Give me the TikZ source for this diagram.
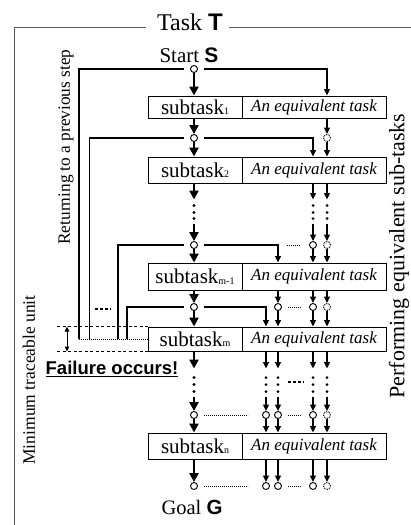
\documentclass[tikz,border=0pt]{standalone}
\usepackage{fontspec}
\setmainfont{Liberation Serif}
\newfontfamily\arialf{Liberation Sans}
\usetikzlibrary{arrows.meta,calc}
\newcommand\subs[1]{\raisebox{-0.5pt}{\fontsize{10}{10}\selectfont #1}}
\begin{document}
\begin{tikzpicture}[x=1pt,y=-1pt,
  frame/.style={line width=1pt, black!65},
  lbox/.style={draw, line width=1pt, minimum width=94pt, inner sep=0pt, font=\fontsize{21}{21}\selectfont},
  rbox/.style={draw, line width=1pt, minimum width=144pt, inner sep=0pt, font=\fontsize{17}{17}\selectfont\itshape},
  pt/.style={circle, draw, line width=0.9pt, fill=white, inner sep=0pt, minimum size=7pt},
  dpt/.style={pt, dash pattern=on 0.9pt off 0.9pt},
  mainarr/.style={line width=2.6pt, -{Triangle[length=9pt,width=9pt]}},
  arr/.style={line width=1.3pt, -{Triangle[length=6.5pt,width=6pt]}},
  ret/.style={line width=1.3pt},
  fdot/.style={line width=0.9pt, dash pattern=on 0.9pt off 1.1pt},
  dsh/.style={line width=0.8pt, dash pattern=on 3pt off 2.5pt},
  bdots/.style={line width=2.2pt, dash pattern=on 2.5pt off 2.5pt},
]
\useasboundingbox (0,0) rectangle (411,525);

% frame and title
\node[font=\fontsize{24}{24}\selectfont, inner sep=0pt] (T) at (190,22) {Task {\arialf\bfseries T}};
\coordinate (fbl) at (14,525);
\coordinate (ftl) at (14,27);
\coordinate (ftr) at (411,27);
\draw[frame] (fbl) -- (ftl) -- ($(ftl -| T.west)+(-11,0)$);
\draw[frame] ($(ftr -| T.east)+(6,0)$) -- (ftr);

\node[font=\fontsize{21}{21}\selectfont, inner sep=0pt] (start) at (189,55) {Start {\arialf\bfseries S}};
\node[font=\fontsize{20.5}{20.5}\selectfont, inner sep=0pt] (goal) at (192,507) {Goal {\arialf\bfseries G}};
\node[font=\fontsize{18.5}{18.5}\selectfont\arialf\bfseries, inner sep=0pt] (fail) at (112,369) {\underline{Failure occurs!}};

\node[rotate=90, font=\fontsize{17.3}{17.3}\selectfont, inner sep=0pt] (ret) at (66,147) {Returning to a previous step};
\node[rotate=90, font=\fontsize{17.5}{17.5}\selectfont, inner sep=0pt] (minu) at (29,380) {Minimum traceable unit};
\node[rotate=90, font=\fontsize{22}{22}\selectfont, inner sep=0pt] (perf) at (399,256) {Performing equivalent sub-tasks};

% boxes
\node[lbox, minimum height=22pt] (s1) at (195,107) {subtask\subs{1}};
\node[rbox, minimum height=22pt] (e1) at (314,107) {An equivalent task};
\node[lbox, minimum height=26pt] (s2) at (195,170) {subtask\subs{2}};
\node[rbox, minimum height=26pt] (e2) at (314,170) {An equivalent task};
\node[lbox, minimum height=27pt] (sm1) at (195,276.5) {subtask\subs{m-1}};
\node[rbox, minimum height=27pt] (em1) at (314,276.5) {An equivalent task};
\node[lbox, minimum height=24pt] (sm) at (195,339) {subtask\subs{m}};
\node[rbox, minimum height=24pt] (em) at (314,339) {An equivalent task};
\node[lbox, minimum height=26pt] (sn) at (195,446) {subtask\subs{n}};
\node[rbox, minimum height=26pt] (en) at (314,446) {An equivalent task};

% main column points
\node[pt] (c0) at (194,69) {};
\node[pt] (c1) at (194,138) {};
\node[pt] (c2) at (194,245) {};
\node[pt] (c3) at (194,307) {};
\node[pt] (c4) at (194,415) {};
\node[pt] (c5) at (194,486) {};
% column 327 (dotted)
\node[dpt] (d1) at (327,138) {};
\node[dpt] (d2) at (327,245) {};
\node[dpt] (d3) at (327,307) {};
\node[dpt] (d4) at (327,415) {};
\node[dpt] (d5) at (327,486) {};
% column 313
\node[pt] (q2) at (313,245) {};
\node[pt] (q3) at (313,307) {};
\node[pt] (q4) at (313,415) {};
\node[pt] (q5) at (313,486) {};
% column 278
\node[pt] (b3) at (278,307) {};
\node[pt] (b4) at (278,415) {};
\node[pt] (b5) at (278,486) {};
% column 266
\node[pt] (a4) at (266,415) {};
\node[pt] (a5) at (266,486) {};

% main column arrows
\draw[mainarr] (c0) -- (c0 |- s1.north);
\draw[mainarr] (c0 |- s1.south) -- (c1);
\draw[mainarr] (c1) -- (c1 |- s2.north);
\draw[mainarr] (c2) -- (c2 |- sm1.north);
\draw[mainarr] (c2 |- sm1.south) -- (c3);
\draw[mainarr] (c3) -- (c3 |- sm.north);
\draw[mainarr] (c4) -- (c4 |- sn.north);
\draw[mainarr] (c4 |- sn.south) -- (c5);
% gaps main
\draw[mainarr] (c1 |- s2.south) -- ++(0,16) coordinate (g1);
\fill ($(g1)+(0,6)$) circle (1.7) ($(g1)+(0,13)$) circle (1.7) ($(g1)+(0,19)$) circle (1.7);
\draw[mainarr] ($(g1)+(0,24)$) -- (c2);
\draw[mainarr] (c4 |- sm.south) -- ++(0,17) coordinate (g2);
\fill ($(g2)+(0,9)$) circle (1.7) ($(g2)+(0,16)$) circle (1.7) ($(g2)+(0,23)$) circle (1.7);
\draw[mainarr] ($(g2)+(0,28)$) -- (c4);

% thin column gaps
\foreach \n in {q2,d2} {
  \draw[arr] (e2.south -| \n) -- ++(0,16) coordinate (g);
  \fill ($(g)+(0,6)$) circle (1.5) ($(g)+(0,13)$) circle (1.5) ($(g)+(0,19)$) circle (1.5);
  \draw[arr] ($(g)+(0,24)$) -- (\n);
}
\foreach \n in {a4,b4,q4,d4} {
  \draw[arr] (em.south -| \n) -- ++(0,17) coordinate (g);
  \fill ($(g)+(0,9)$) circle (1.5) ($(g)+(0,16)$) circle (1.5) ($(g)+(0,23)$) circle (1.5);
  \draw[arr] ($(g)+(0,28)$) -- (\n);
}

% column 327
\draw[arr] (e1.south -| d1) -- (d1);
\draw[arr] (d1) -- (d1 |- e2.north);
\draw[arr] (d2) -- (d2 |- em1.north);
\draw[arr] (em1.south -| d3) -- (d3);
\draw[arr] (d3) -- (d3 |- em.north);
\draw[arr] (d4) -- (d4 |- en.north);
\draw[arr] (en.south -| d5) -- (d5);
% column 313
\draw[arr] (q2) -- (q2 |- em1.north);
\draw[arr] (em1.south -| q3) -- (q3);
\draw[arr] (q3) -- (q3 |- em.north);
\draw[arr] (q4) -- (q4 |- en.north);
\draw[arr] (en.south -| q5) -- (q5);
% column 278
\draw[arr] (em1.south -| b3) -- (b3);
\draw[arr] (b3) -- (b3 |- em.north);
\draw[arr] (b4) -- (b4 |- en.north);
\draw[arr] (en.south -| b5) -- (b5);
% column 266
\draw[arr] (a4) -- (a4 |- en.north);
\draw[arr] (en.south -| a5) -- (a5);

% branches to the right
\draw[arr, shorten <=6pt] (c0.east) -| (e1.north -| d1);
\draw[arr, shorten <=6pt] (c1.east) -| (e2.north -| q2);
\draw[arr, shorten <=6pt] (c2.east) -| (em1.north -| b3);
\draw[arr, shorten <=6pt] (c3.east) -| (em.north -| a4);

% returns to the left
\coordinate (r0) at (79,339);
\coordinate (r1) at (89.5,339);
\coordinate (r2) at (118,339);
\coordinate (r3) at (127,339);
\draw[ret, shorten <=6pt] (c0.west) -| (r0);
\draw[ret, shorten <=6pt] (c1.west) -| (r1);
\draw[ret, shorten <=6pt] (c2.west) -| (r2);
\draw[ret, shorten <=6pt] (c3.west) -| (r3);
\draw[fdot] (r0) -- (sm.west);
\coordinate (k0) at (95,309);
\coordinate (k1) at (111,309);
\draw[bdots] (k0) -- (k1);

% minimum traceable unit marks
\coordinate (u0) at (57,0);
\coordinate (u1) at (67,0);
\draw[dsh] (u0 |- sm.north) -- (sm.north west);
\draw[dsh] (u0 |- sm.south) -- (sm.south west);
\draw[line width=1pt, {Triangle[length=5pt,width=4.5pt]}-{Triangle[length=5pt,width=4.5pt]}] (u1 |- sm.north) -- (u1 |- sm.south);

% horizontal dotted lines
\draw[fdot] ($(q2)+(-26,0)$) -- ($(q2)+(-13,0)$);
\draw[fdot, shorten <=6pt, shorten >=9pt] (b3.east) -- (q3.west);
\draw[fdot] ($(c4.east)+(6,0)$) -- ($(c4.east)+(50,0)$);
\draw[fdot, shorten <=6pt, shorten >=9pt] (b4.east) -- (q4.west);
\draw[fdot] ($(c5.east)+(6,0)$) -- ($(c5.east)+(50,0)$);
\draw[fdot, shorten <=6pt, shorten >=9pt] (b5.east) -- (q5.west);
\coordinate (k2) at (288,382);
\coordinate (k3) at (304,382);
\draw[bdots] (k2) -- (k3);
\end{tikzpicture}
\end{document}
